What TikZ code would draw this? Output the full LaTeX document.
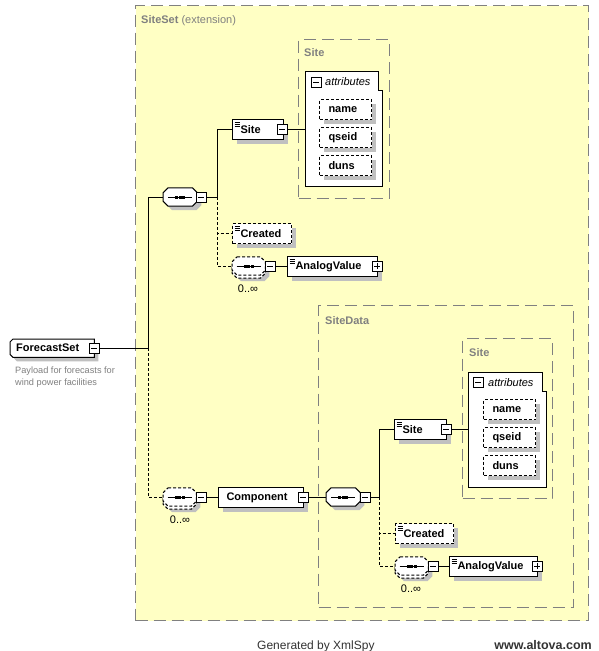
\documentclass[tikz,border=0pt]{standalone}
\usepackage{fontspec}
\setmainfont{Liberation Sans}
\usetikzlibrary{shadows}
\definecolor{bgy}{RGB}{255,255,196}
\definecolor{dgray}{RGB}{128,128,128}
\definecolor{shgray}{RGB}{192,192,192}
\newcommand\elfont{\fontsize{11}{13}\selectfont\bfseries}
% octagon outline around a node
\newcommand\octpath[2]{([xshift=#2]#1.north west) -- ([xshift=-#2]#1.north east) -- ([yshift=-#2]#1.north east) -- ([yshift=#2]#1.south east) -- ([xshift=-#2]#1.south east) -- ([xshift=#2]#1.south west) -- ([yshift=#2]#1.south west) -- ([yshift=-#2]#1.north west) -- cycle}
\newcommand\seqdots[1]{%
  \draw[line width=1pt] ([xshift=-12pt]#1.center) -- ([xshift=12pt]#1.center);
  \foreach \dx in {-5,-1.5,2}{\fill[black] ([shift={(\dx pt,-1.5pt)}]#1.center) rectangle ++(3pt,3pt);}}
\newcommand\drawseq[1]{%
  \fill[shgray,transform canvas={shift={(4pt,-4pt)}}] \octpath{#1}{5pt};
  \draw[line width=1pt,fill=white] \octpath{#1}{5pt};
  \seqdots{#1}}
\newcommand\drawoptseq[1]{%
  \fill[shgray,transform canvas={shift={(4pt,-6pt)}}] \octpath{#1}{5pt};
  \draw[line width=1pt,fill=white,dash pattern=on 3pt off 2pt,transform canvas={shift={(0pt,-3pt)}}] \octpath{#1}{5pt};
  \draw[line width=1pt,fill=white,dash pattern=on 3pt off 2pt] \octpath{#1}{5pt};
  \seqdots{#1}}
\begin{document}
\begin{tikzpicture}[x=1pt,y=-1pt,
 shad/.style={drop shadow={shadow xshift=4pt,shadow yshift=-4pt,fill=shgray,opacity=1}},
 elem/.style={rectangle,draw,line width=1pt,fill=white,inner xsep=8pt,inner ysep=0pt,minimum height=20pt,anchor=north west,font=\elfont,align=left,shad},
 typed/.style={path picture={\foreach \dy in {2.5,4.5,6.5}{\draw[solid,line width=0.6pt] ([shift={(2pt,-\dy pt)}]path picture bounding box.north west) -- ++(5pt,0pt);}}},
 optl/.style={dash pattern=on 3pt off 2pt},
 attr/.style={elem,optl,inner xsep=9pt,text width=34pt},
 mbox/.style={rectangle,draw,line width=0.8pt,fill=white,minimum size=10pt,inner sep=0pt,
   path picture={\draw[line width=0.8pt] ([xshift=-3pt]path picture bounding box.center) -- ([xshift=3pt]path picture bounding box.center);}},
 pbox/.style={rectangle,draw,line width=0.8pt,fill=white,minimum size=10pt,inner sep=0pt,
   path picture={\draw[line width=0.8pt] ([xshift=-3pt]path picture bounding box.center) -- ([xshift=3pt]path picture bounding box.center) ([yshift=-3pt]path picture bounding box.center) -- ([yshift=3pt]path picture bounding box.center);}},
 seqn/.style={rectangle,minimum width=#1,minimum height=18pt,inner sep=0pt,anchor=west},
 box/.style={draw=dgray,line width=1pt,dash pattern=on 12pt off 6pt,inner sep=0pt,anchor=north west},
 glabel/.style={anchor=base west,inner sep=0pt,text=dgray,font=\fontsize{11}{13}\selectfont},
 gblabel/.style={glabel,font=\fontsize{11}{13}\selectfont\bfseries},
 ilabel/.style={anchor=base west,inner sep=0pt,font=\fontsize{11}{13}\selectfont\itshape},
 conn/.style={line width=1pt},
 dconn/.style={line width=1pt,optl},
 card/.style={inner sep=0pt,font=\fontsize{11}{13}\selectfont},
 attrbox/.style={inner sep=0pt,minimum width=#1,minimum height=115pt,anchor=north west},
]
\fill[white] (0,0) rectangle (598,651);
\useasboundingbox (0,0) rectangle (598,651);

% containers
\node[box,fill=bgy,minimum width=453pt,minimum height=615pt] (siteset) at (135,5) {};
\node[glabel] (sitesetl) at (141,23) {\textbf{SiteSet} (extension)};
\node[box,minimum width=255pt,minimum height=302pt] (sitedata) at (318,305) {};
\node[gblabel] (sitedatal) at (325,324) {SiteData};
\node[box,minimum width=91pt,minimum height=159pt] (sitebox1) at (298,39) {};
\node[gblabel] (sitebox1l) at (304,56) {Site};
\node[box,minimum width=90pt,minimum height=160pt] (sitebox2) at (462,338) {};
\node[gblabel] (sitebox2l) at (469,356) {Site};

% attributes 1
\node[attrbox=77pt] (attr1) at (305,71) {};
\draw[line width=1pt,fill=white] (attr1.north west) -- ([xshift=-4pt]attr1.north east) -- ([shift={(-4pt,-19pt)}]attr1.north east) -- ([yshift=-19pt]attr1.north east) -- (attr1.south east) -- (attr1.south west) -- cycle;
\node[mbox] (attr1m) at (316,82) {};
\node[ilabel] (attr1t) at (325,85) {attributes};
\node[attr] (name1) at (319,99) {name};
\node[attr] (qseid1) at (319,127) {qseid};
\node[attr] (duns1) at (319,155) {duns};

% attributes 2
\node[attrbox=78pt] (attr2) at (468,372) {};
\draw[line width=1pt,fill=white] (attr2.north west) -- ([xshift=-4pt]attr2.north east) -- ([shift={(-4pt,-19pt)}]attr2.north east) -- ([yshift=-19pt]attr2.north east) -- (attr2.south east) -- (attr2.south west) -- cycle;
\node[mbox] (attr2m) at (478,382) {};
\node[ilabel] (attr2t) at (488,386) {attributes};
\node[attr] (name2) at (483,399) {name};
\node[attr] (qseid2) at (483,427) {qseid};
\node[attr] (duns2) at (483,455) {duns};

% root
\node[rectangle,inner sep=0pt,minimum width=84pt,minimum height=18pt,anchor=north west] (fs) at (10,339) {};
\fill[shgray,transform canvas={shift={(4pt,-4pt)}}] ([xshift=3pt]fs.north west) -- (fs.north east) -- (fs.south east) -- ([xshift=3pt]fs.south west) -- ([yshift=3pt]fs.south west) -- ([yshift=-3pt]fs.north west) -- cycle;
\draw[line width=1pt,fill=white] ([xshift=3pt]fs.north west) -- (fs.north east) -- (fs.south east) -- ([xshift=3pt]fs.south west) -- ([yshift=3pt]fs.south west) -- ([yshift=-3pt]fs.north west) -- cycle;
\node[anchor=west,inner sep=0pt,font=\elfont] (fstext) at ([xshift=6pt]fs.west) {ForecastSet};
\node[mbox] (fsm) at (94,348) {};
\node[anchor=base west,inner sep=0pt,font=\fontsize{9.2}{12}\selectfont,text=dgray] (desc1) at (15,373) {Payload for forecasts for};
\node[anchor=base west,inner sep=0pt,font=\fontsize{9.2}{12}\selectfont,text=dgray] (desc2) at (15,385) {wind power facilities};

% upper branch
\node[seqn=34pt] (seq1) at (163,197) {};
\drawseq{seq1}
\node[mbox] (seq1m) at (201,197) {};
\node[elem,typed,text width=35pt] (site1) at (232,119) {Site};
\node[mbox] (site1m) at (282,129) {};
\node[elem,typed,optl,text width=43pt] (created1) at (232,223) {Created};
\node[seqn=33pt] (seq2) at (232,266) {};
\drawoptseq{seq2}
\node[mbox] (seq2m) at (270,266) {};
\node[card] (card2) at (248,289) {0..∞};
\node[elem,typed,text width=74pt] (analog1) at (287,256) {AnalogValue};
\node[pbox] (analog1p) at (377,266) {};

% lower branch
\node[seqn=33pt] (seq3) at (163,497) {};
\drawoptseq{seq3}
\node[mbox] (seq3m) at (201,497) {};
\node[card] (card3) at (180,520) {0..∞};
\node[elem,text width=69pt] (comp) at (218,487) {Component};
\node[mbox] (compm) at (303,497) {};
\node[seqn=34pt] (seq4) at (326,497) {};
\drawseq{seq4}
\node[mbox] (seq4m) at (365,497) {};
\node[elem,typed,text width=36pt] (site2) at (394,419) {Site};
\node[mbox] (site2m) at (446,429) {};
\node[elem,typed,optl,text width=42pt] (created2) at (395,523) {Created};
\node[seqn=33pt] (seq5) at (395,566) {};
\drawoptseq{seq5}
\node[mbox] (seq5m) at (433,566) {};
\node[card] (card5) at (411,589) {0..∞};
\node[elem,typed,text width=72pt] (analog2) at (449,556) {AnalogValue};
\node[pbox] (analog2p) at (537,566) {};

% connectors
\coordinate (jx1) at (148,0);
\coordinate (jx2) at (217,0);
\coordinate (jx3) at (379,0);
\draw[conn] (fsm.east) -- (fsm.east -| jx1) |- (seq1.west);
\draw[dconn] (fsm.east -| jx1) |- (seq3.west);
\draw[conn] (seq1m.east) -- (seq1m.east -| jx2) |- (site1.west);
\draw[dconn] (seq1m.east -| jx2) |- (created1.west);
\draw[dconn] (seq1m.east -| jx2) |- (seq2.west);
\draw[conn] (seq2m.east) -- (seq2m.east -| analog1.west);
\draw[conn] (site1m.east) -- (site1m.east -| attr1.west);
\draw[conn] (seq3m.east) -- (seq3m.east -| comp.west);
\draw[conn] (compm.east) -- (compm.east -| seq4.west);
\draw[conn] (seq4m.east) -- (seq4m.east -| jx3) |- (site2.west);
\draw[dconn] (seq4m.east -| jx3) |- (created2.west);
\draw[dconn] (seq4m.east -| jx3) |- (seq5.west);
\draw[conn] (seq5m.east) -- (seq5m.east -| analog2.west);
\draw[conn] (site2m.east) -- (site2m.east -| attr2.west);

% footer
\node[anchor=base west,inner sep=0pt,font=\fontsize{12}{14}\selectfont,text=black!80] (gen) at (257,649) {Generated by XmlSpy};
\node[anchor=base east,inner sep=0pt,font=\fontsize{12.5}{14}\selectfont\bfseries,text=black!80] (alt) at (592,649) {www.altova.com};
\end{tikzpicture}
\end{document}
